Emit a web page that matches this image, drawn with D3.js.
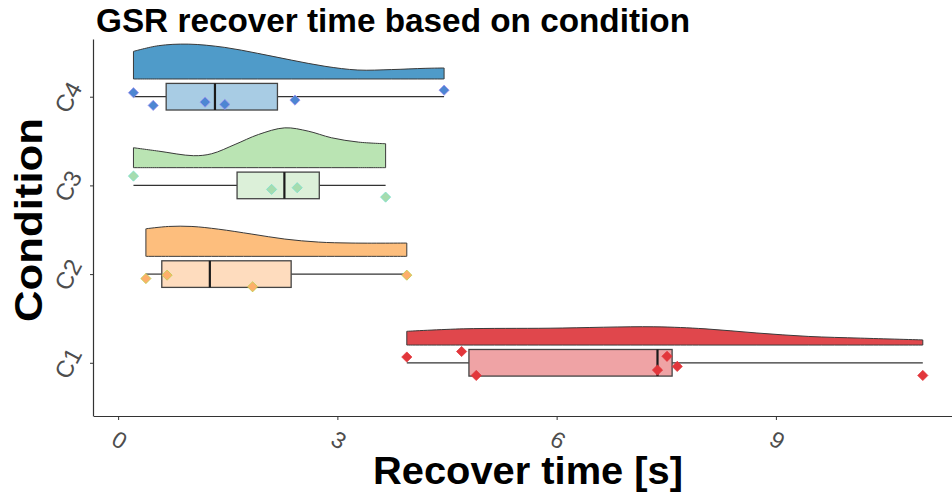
<!DOCTYPE html>
<html>
<head>
<meta charset="utf-8">
<script src="https://cdn.jsdelivr.net/npm/d3@7"></script>
<style>
  html, body { margin: 0; padding: 0; background: #ffffff; }
  svg { display: block; }
  text { font-family: "Liberation Sans", Arial, Helvetica, sans-serif; }
</style>
</head>
<body>
<svg id="chart" width="952" height="495"></svg>
<script>
// ---------------- data ----------------
const categories = ["C1", "C2", "C3", "C4"];
const xTicks = [0, 3, 6, 9];

// recover time values per condition (seconds)
const c1Values = [3.95, 4.70, 4.90, 7.38, 7.51, 7.65, 11.01];
const c2Values = [0.38, 0.67, 1.84, 3.95];
const c3Values = [0.21, 2.10, 2.45, 3.66];
const c4Values = [0.21, 0.48, 1.19, 1.46, 2.42, 4.46];

// vertical jitter of each point (category units)
const c1Jitter = [0.065, 0.127, -0.143, -0.082, 0.073, -0.041, -0.143];
const c2Jitter = [-0.050, -0.012, -0.143, -0.012];
const c3Jitter = [0.105, -0.045, -0.026, -0.132];
const c4Jitter = [0.045, -0.098, -0.061, -0.087, -0.038, 0.074];

// half-violin density profiles: [time, density height in category units]
const c1Density = [[3.95,0.155],[4.73,0.183],[5.91,0.190],[7.33,0.206],[8.03,0.183],[8.74,0.136],[9.45,0.097],[10.16,0.078],[11.01,0.058]];
const c2Density = [[0.38,0.311],[0.69,0.337],[1.01,0.337],[1.37,0.307],[1.83,0.251],[2.28,0.195],[2.74,0.161],[3.20,0.150],[3.95,0.150]];
const c3Density = [[0.21,0.225],[0.55,0.187],[1.03,0.135],[1.28,0.157],[1.60,0.262],[1.92,0.374],[2.28,0.449],[2.60,0.412],[2.92,0.337],[3.29,0.288],[3.66,0.270]];
const c4Density = [[0.21,0.311],[0.55,0.375],[0.96,0.393],[1.46,0.356],[1.91,0.289],[2.37,0.213],[2.83,0.143],[3.28,0.101],[3.74,0.106],[4.20,0.120],[4.46,0.124]];

// colours
const violinFill = ["#e0474c", "#fdbe7d", "#bae4b3", "#4f9bc9"];
const boxFill    = ["#efa3a5", "#fedcbe", "#dcf0d9", "#a8cce4"];
const pointFill  = ["#e2363b", "#fdaf6a", "#a6dcae", "#4d86d2"];
const pointEdge  = ["#e2363b", "#b9d24a", "#78e0cf", "#9c8cf0"];

// ---------------- build ----------------
const groups = categories.map((c, i) => ({
  name: c,
  pos: i + 1,
  values: [c1Values, c2Values, c3Values, c4Values][i],
  jitter: [c1Jitter, c2Jitter, c3Jitter, c4Jitter][i],
  density: [c1Density, c2Density, c3Density, c4Density][i],
  idx: i
}));

const svg = d3.select("#chart");
const W = 952, H = 495;
svg.append("rect").attr("width", W).attr("height", H).attr("fill", "#ffffff");

const panel = { left: 94, right: 963, top: 43.5, bottom: 416 };
const x = d3.scaleLinear().domain([-0.33, 11.56]).range([panel.left, panel.right]);
const y = d3.scaleLinear().domain([0.4, 4.6]).range([panel.bottom, panel.top]);

const violinOffset = 0.2;   // base of the half violin above category line
const boxHalf = 0.15;

const g = svg.append("g");

// violins
const area = d3.area()
  .x(d => x(d[0]))
  .curve(d3.curveCatmullRom.alpha(0.5));

groups.forEach(gr => {
  const base = gr.pos + violinOffset;
  g.append("path")
    .attr("d", area.y0(() => y(base)).y1(d => y(base + d[1]))(gr.density))
    .attr("fill", violinFill[gr.idx])
    .attr("stroke", "#3a3a3a")
    .attr("stroke-width", 1)
    .attr("stroke-linejoin", "round");
});

// boxplots
groups.forEach(gr => {
  const s = gr.values.slice().sort(d3.ascending);
  const q1 = d3.quantile(s, 0.25), med = d3.quantile(s, 0.5), q3 = d3.quantile(s, 0.75);
  const iqr = q3 - q1;
  const lo = d3.min(s.filter(v => v >= q1 - 1.5 * iqr));
  const hi = d3.max(s.filter(v => v <= q3 + 1.5 * iqr));
  const cy = y(gr.pos);
  g.append("line").attr("x1", x(lo)).attr("x2", x(q1)).attr("y1", cy).attr("y2", cy)
    .attr("stroke", "#333333").attr("stroke-width", 1.2);
  g.append("line").attr("x1", x(q3)).attr("x2", x(hi)).attr("y1", cy).attr("y2", cy)
    .attr("stroke", "#333333").attr("stroke-width", 1.2);
  g.append("rect")
    .attr("x", x(q1)).attr("width", x(q3) - x(q1))
    .attr("y", y(gr.pos + boxHalf)).attr("height", y(gr.pos - boxHalf) - y(gr.pos + boxHalf))
    .attr("fill", boxFill[gr.idx])
    .attr("stroke", "#444444").attr("stroke-width", 1.3);
  g.append("line").attr("x1", x(med)).attr("x2", x(med))
    .attr("y1", y(gr.pos + boxHalf)).attr("y2", y(gr.pos - boxHalf))
    .attr("stroke", "#1a1a1a").attr("stroke-width", 2.2);
});

// points
const diamond = d3.symbol().type(d3.symbolSquare).size(52);
groups.forEach(gr => {
  gr.values.forEach((v, k) => {
    g.append("path")
      .attr("d", diamond())
      .attr("transform", `translate(${x(v)},${y(gr.pos + gr.jitter[k])}) rotate(45)`)
      .attr("fill", pointFill[gr.idx])
      .attr("stroke", pointEdge[gr.idx])
      .attr("stroke-width", 0.9)
      .attr("stroke-opacity", 0.8);
  });
});

// axes
const xAxis = d3.axisBottom(x).tickValues(xTicks).tickSize(4).tickPadding(6).tickFormat(d3.format("d"));
const xg = svg.append("g").attr("transform", `translate(0,${panel.bottom})`).call(xAxis);
xg.select(".domain").attr("d", `M${panel.left},0.5H${W + 20}`).attr("stroke", "#333").attr("stroke-width", 1.2);
xg.selectAll(".tick line").attr("stroke", "#333").attr("stroke-width", 1);
xg.selectAll(".tick text")
  .attr("font-size", 23).attr("fill", "#4d4d4d")
  .attr("dy", null).attr("y", 0)
  .attr("text-anchor", "middle")
  .attr("transform", "translate(1,24) rotate(30)")
  .attr("dominant-baseline", "central");

const yAxis = d3.axisLeft(y).tickValues(groups.map(d => d.pos)).tickFormat((d, i) => categories[i]).tickSize(4).tickPadding(6);
const yg = svg.append("g").attr("transform", `translate(${panel.left},0)`).call(yAxis);
yg.select(".domain").attr("d", `M-0.5,${panel.top - 4}V${panel.bottom + 0.5}`).attr("stroke", "#333").attr("stroke-width", 1.2);
yg.selectAll(".tick line").attr("stroke", "#333").attr("stroke-width", 1);
yg.selectAll(".tick text")
  .attr("font-size", 24).attr("fill", "#4d4d4d")
  .attr("x", 0).attr("dy", null)
  .attr("text-anchor", "middle")
  .attr("dominant-baseline", "central")
  .attr("transform", "translate(-26,0) rotate(-62)");

// titles
svg.append("text")
  .attr("x", 96).attr("y", 32)
  .attr("font-size", 33).attr("font-weight", "bold").attr("fill", "#000")
  .attr("textLength", 594).attr("lengthAdjust", "spacingAndGlyphs")
  .text("GSR recover time based on condition");

svg.append("text")
  .attr("x", 528).attr("y", 484)
  .attr("text-anchor", "middle")
  .attr("font-size", 39).attr("font-weight", "bold").attr("fill", "#000")
  .attr("textLength", 310).attr("lengthAdjust", "spacingAndGlyphs")
  .text("Recover time [s]");

svg.append("text")
  .attr("transform", "translate(42,220) rotate(-90)")
  .attr("text-anchor", "middle")
  .attr("font-size", 39).attr("font-weight", "bold").attr("fill", "#000")
  .attr("textLength", 204).attr("lengthAdjust", "spacingAndGlyphs")
  .text("Condition");
</script>
</body>
</html>
